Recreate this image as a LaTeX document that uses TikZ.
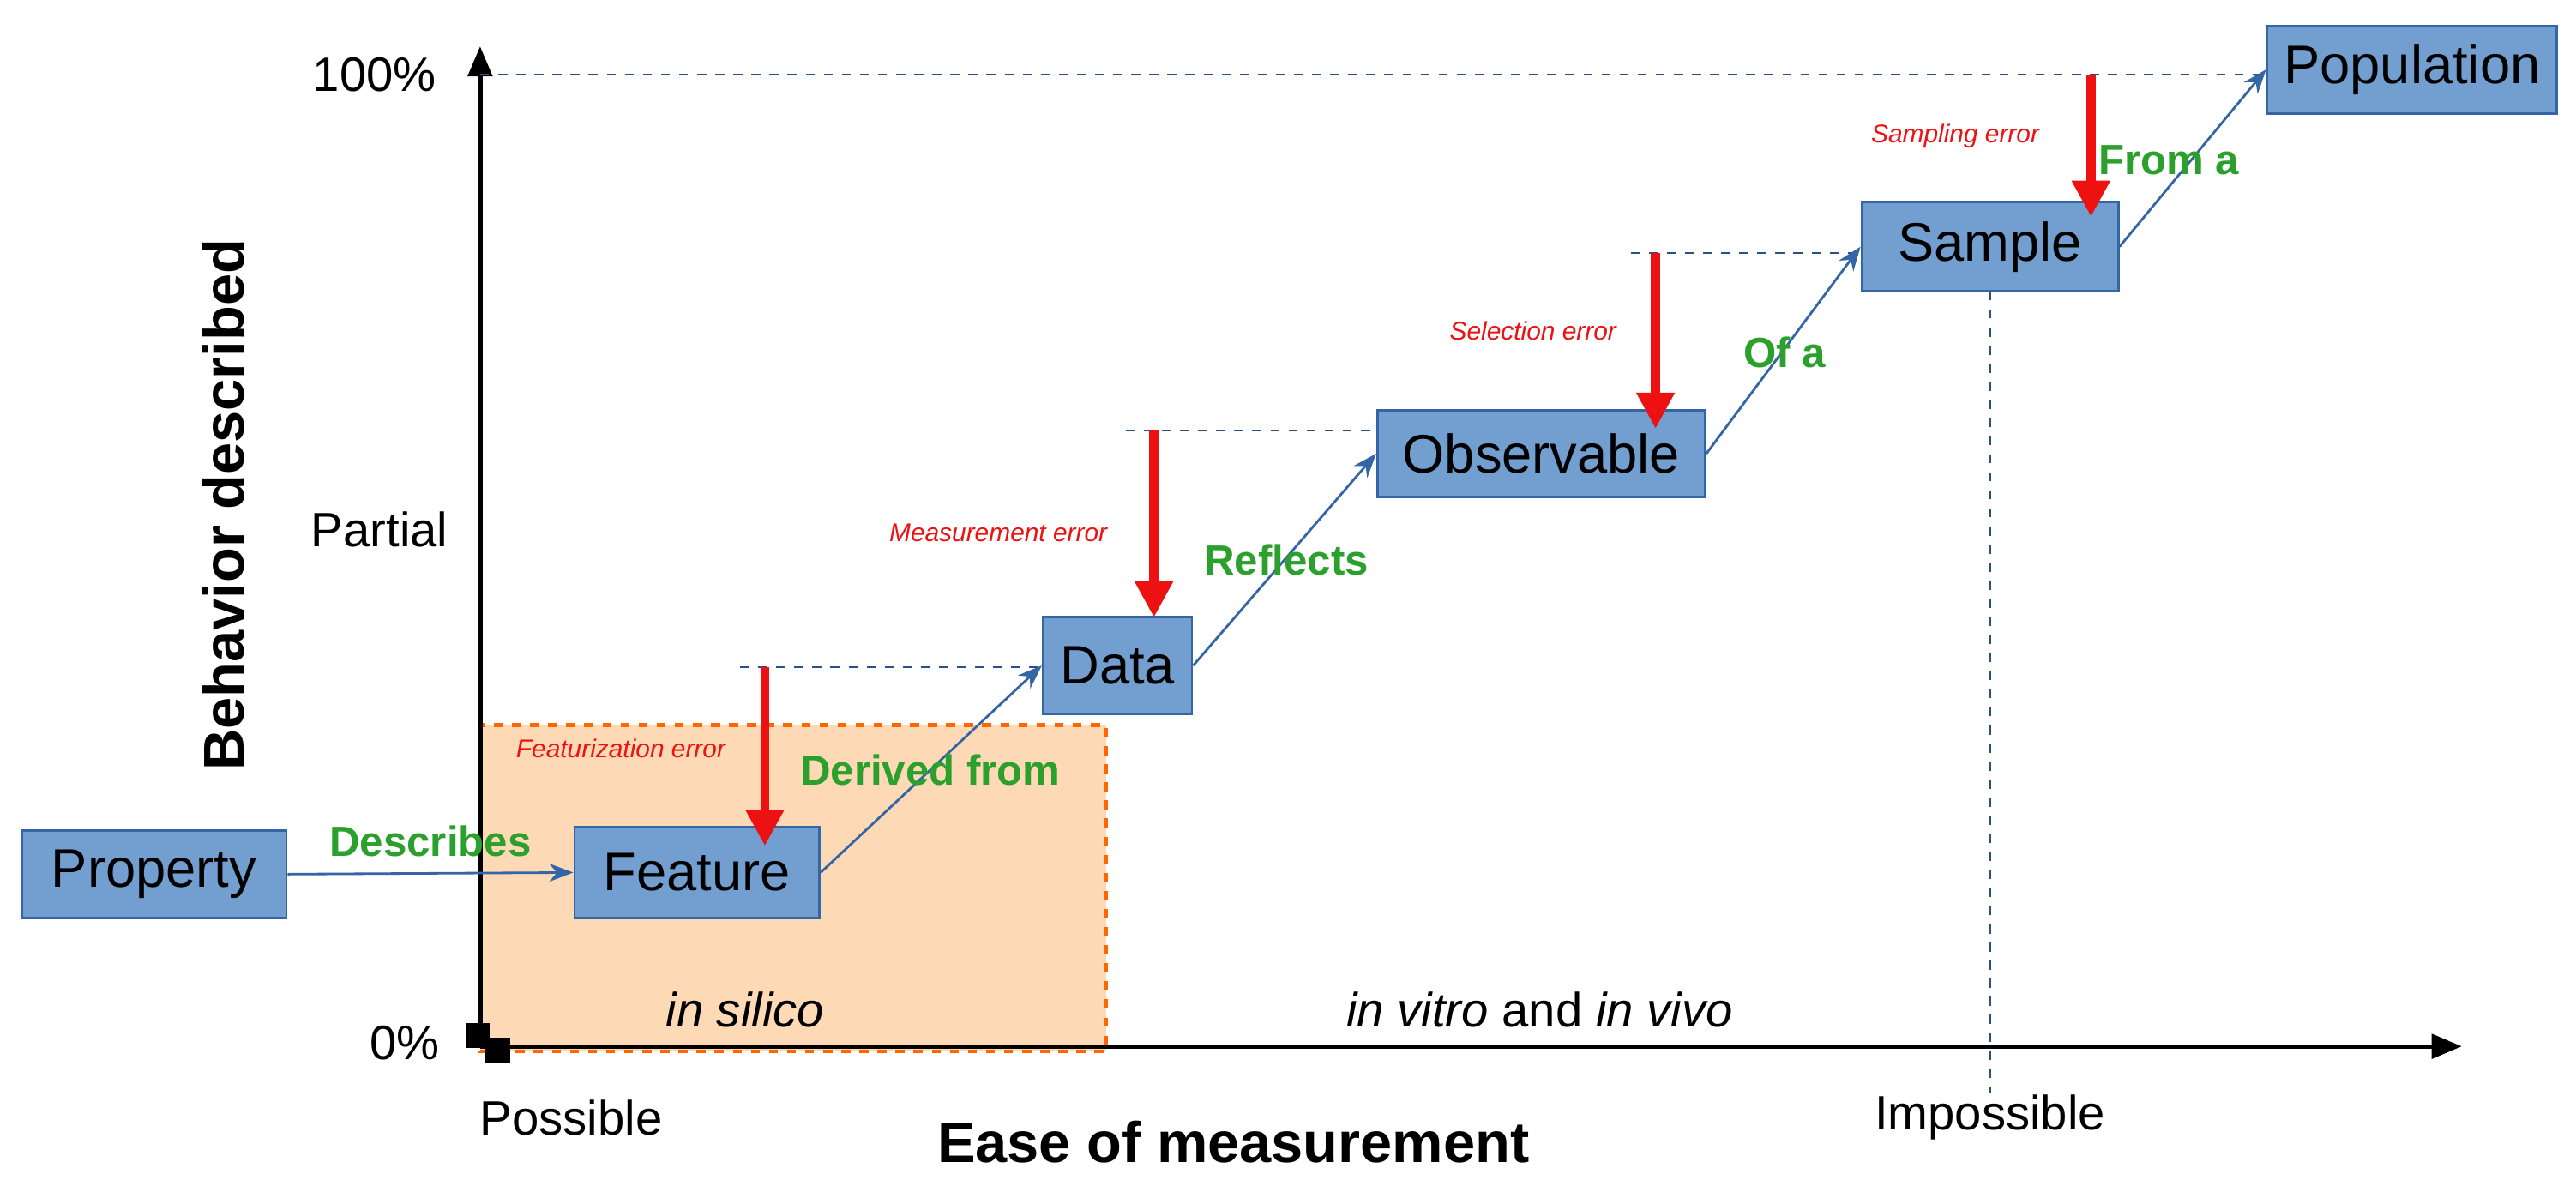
\documentclass[tikz,border=0pt]{standalone}
\usepackage{fontspec}
\setmainfont{Liberation Sans}
\usetikzlibrary{arrows.meta}
\definecolor{boxf}{HTML}{729FCF}
\definecolor{boxd}{HTML}{3465A4}
\definecolor{grn}{HTML}{2CA02C}
\definecolor{rd}{HTML}{EE1111}
\definecolor{peach}{HTML}{FDD9B5}
\def\pxu{0.019306cm}
\begin{document}
\begin{tikzpicture}[x=0.019306cm,y=-0.019306cm,
 box/.style={draw=boxd,fill=boxf,line width=0.8pt,inner sep=0pt,font=\fontsize{18}{20}\selectfont},
 lnk/.style={draw=boxd,line width=0.8pt,-{Stealth[length=8pt,width=6pt]}},
 err/.style={draw=rd,line width=3pt,-{Triangle[length=12pt,width=12pt]}},
 dsh/.style={draw=boxd!80!black,dashed,line width=0.6pt},
 elab/.style={text=rd,font=\fontsize{8.5}{10}\selectfont\itshape},
 glab/.style={text=grn,font=\fontsize{14}{16}\selectfont\bfseries},
 tick/.style={font=\fontsize{16}{18}\selectfont}]
\useasboundingbox (0,0) rectangle (1556,716);
\fill[white] (0,0) rectangle (1556,716);
\draw[draw=orange!80!red,dashed,line width=1.2pt,fill=peach] (290,438) rectangle (668,635);
% axes
\draw[line width=1.5pt,-{Triangle[length=10pt,width=8pt]}] (290,632) -- (290,28);
\draw[line width=1.5pt,-{Triangle[length=10pt,width=8pt]}] (290,632) -- (1487,632);
\fill (281,618) rectangle (296,633);
\fill (293,627) rectangle (308,642);
% dashed guides
\coordinate (d1a) at (290,45); \coordinate (d1b) at (1370,45);
\draw[dsh] (d1a) -- (d1b);
\coordinate (d2a) at (447,403); \coordinate (d2b) at (630,403);
\draw[dsh] (d2a) -- (d2b);
\coordinate (d3a) at (680,260); \coordinate (d3b) at (832,260);
\draw[dsh] (d3a) -- (d3b);
\coordinate (d4a) at (985,153); \coordinate (d4b) at (1125,153);
\draw[dsh] (d4a) -- (d4b);
\coordinate (v1) at (1202,176); \coordinate (v2) at (1202,660);
\draw[dsh] (v1) -- (v2);
% boxes
\node[box,minimum width={160*\pxu},minimum height={53*\pxu}] (prop) at (93,528) {Property};
\node[box,minimum width={148*\pxu},minimum height={55*\pxu}] (feat) at (421,527) {Feature};
\node[box,minimum width={90*\pxu},minimum height={59*\pxu}] (data) at (675,402) {Data};
\node[box,minimum width={198*\pxu},minimum height={52*\pxu}] (obs) at (931,274) {Observable};
\node[box,minimum width={155*\pxu},minimum height={54*\pxu}] (samp) at (1202,149) {Sample};
\node[box,minimum width={175*\pxu},minimum height={53*\pxu}] (pop) at (1457,42) {Population};
% links
\draw[lnk] (prop.east) -- (feat.west);
\draw[lnk] (feat.east) -- (data.west);
\draw[lnk] (data.east) -- (obs.west);
\draw[lnk] (obs.east) -- (samp.west);
\draw[lnk] (samp.east) -- (pop.west);
% errors
\coordinate (e1a) at (462,403); \coordinate (e1b) at (462,511);
\draw[err] (e1a) -- (e1b);
\coordinate (e2a) at (697,260); \coordinate (e2b) at (697,373);
\draw[err] (e2a) -- (e2b);
\coordinate (e3a) at (1000,153); \coordinate (e3b) at (1000,259);
\draw[err] (e3a) -- (e3b);
\coordinate (e4a) at (1263,45); \coordinate (e4b) at (1263,131);
\draw[err] (e4a) -- (e4b);
\node[elab] (l1) at (375,452) {Featurization error};
\node[elab] (l2) at (603,322) {Measurement error};
\node[elab] (l3) at (926,200) {Selection error};
\node[elab] (l4) at (1181,82) {Sampling error};
\node[glab] (g1) at (260,508) {Describes};
\node[glab] (g2) at (562,465) {Derived from};
\node[glab] (g3) at (777,338) {Reflects};
\node[glab] (g4) at (1078,213) {Of a};
\node[glab] (g5) at (1310,97) {From a};
% axis text
\node[tick,anchor=east] (t100) at (270,45) {100\%};
\node[tick,anchor=east] (tpar) at (277,320) {Partial};
\node[tick,anchor=east] (t0) at (272,630) {0\%};
\node[tick] (tpos) at (345,675) {Possible};
\node[tick] (timp) at (1202,675) {Impossible};
\node[font=\fontsize{19}{21}\selectfont\bfseries] (xl) at (745,690) {Ease of measurement};
\node[font=\fontsize{19}{21}\selectfont\bfseries,rotate=90] (yl) at (135,305) {Behavior described};
\node[tick] (sil) at (450,610) {\itshape in silico};
\node[tick] (viv) at (930,610) {\textit{in vitro} and \textit{in vivo}};
\end{tikzpicture}
\end{document}
